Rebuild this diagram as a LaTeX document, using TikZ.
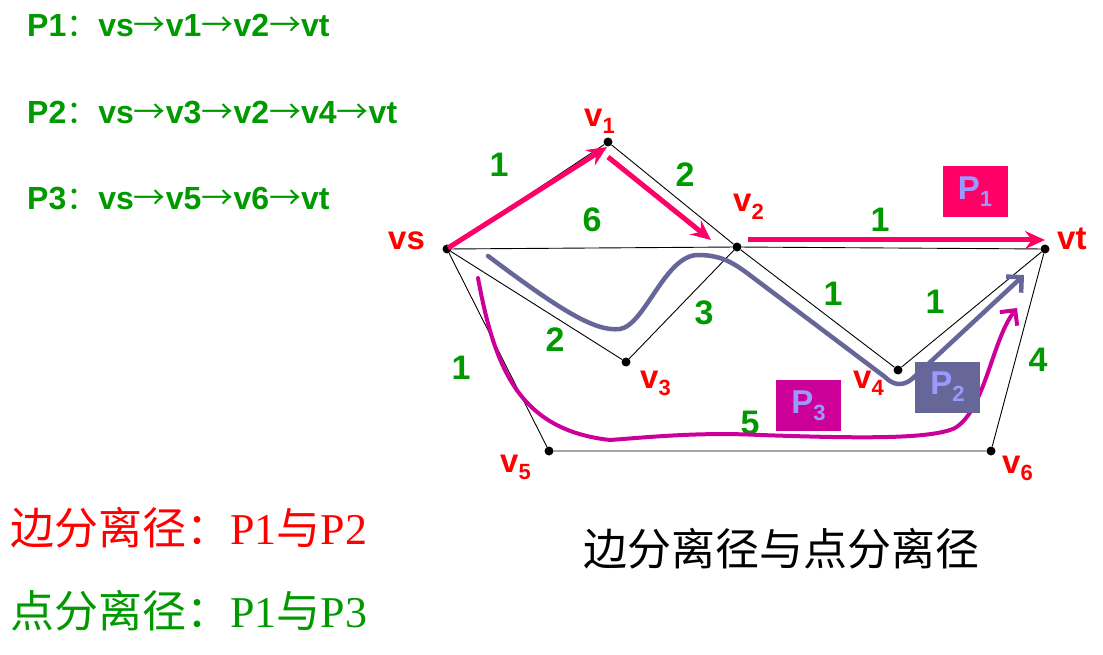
\documentclass[tikz,border=0pt]{standalone}
\usepackage{fontspec}
\setmainfont{Liberation Sans}
\newfontfamily\cjk{Noto Sans CJK SC}
\newfontfamily\lserif{Liberation Serif}
\usetikzlibrary{arrows.meta}
\definecolor{pgreen}{HTML}{009900}
\definecolor{pred}{HTML}{FF0000}
\definecolor{ppink}{HTML}{FF0066}
\definecolor{pslate}{HTML}{666699}
\definecolor{pmag}{HTML}{CC0099}
\definecolor{plilac}{HTML}{9999FF}
\newcommand\vsub[1]{v\raisebox{-7pt}{\fontsize{22}{22}\selectfont #1}}
\newcommand\psub[1]{P\raisebox{-7pt}{\fontsize{22}{22}\selectfont #1}}
\newcommand\pto{{\cjk\mdseries →}}
\newcommand\pcol{{\cjk\mdseries ：}}

\begin{document}
\begin{tikzpicture}[x=1pt,y=-1pt,
  vert/.style={circle,fill,inner sep=0pt,minimum size=9pt},
  edge/.style={line width=0.9pt},
  vlab/.style={text=pred,font=\fontsize{33}{33}\selectfont\bfseries,inner sep=0pt,anchor=base west},
  wlab/.style={text=pgreen,font=\fontsize{34}{34}\selectfont\bfseries,inner sep=0pt},
  ptext/.style={text=pgreen,font=\fontsize{32}{38}\selectfont\bfseries,inner sep=0pt,anchor=base west},
  ctext/.style={font=\fontsize{44}{48}\selectfont,inner sep=0pt},
  pbox/.style={minimum width=65pt,minimum height=51pt,inner sep=0pt,text=plilac,font=\fontsize{33}{33}\selectfont\bfseries},
  pinkarrow/.style={ppink,line width=5pt,-{Stealth[length=20pt,width=18pt,inset=7pt]}},
  curvearrow/.style={line width=4.5pt,line cap=round,-{Straight Barb[length=11pt,width=22pt]}}]
\useasboundingbox (0,0) rectangle (1103,655);
% the three paths
\node[ptext] (path1) at (27,37) {P1\pcol vs\pto v1\pto v2\pto vt};
\node[ptext] (path2) at (27,124) {P2\pcol vs\pto v3\pto v2\pto v4\pto vt};
\node[ptext] (path3) at (27,210) {P3\pcol vs\pto v5\pto v6\pto vt};
% vertices
\node[vert] (vs) at (447,249) {};
\node[vert] (v1) at (608,142) {};
\node[vert] (v2) at (737,247) {};
\node[vert] (vt) at (1045,249) {};
\node[vert] (v3) at (626,362) {};
\node[vert] (v4) at (898,370) {};
\node[vert] (v5) at (549,451) {};
\node[vert] (v6) at (991,451) {};
% edges
\draw[edge] (vs) -- (v1) -- (v2) -- (vt);
\draw[edge] (vs) -- (v2);
\draw[edge] (vs) -- (v3) -- (v2) -- (v4) -- (vt);
\draw[edge] (vs) -- (v5) -- (v6) -- (vt);
% vertex labels
\node[vlab] (lvs) at (388,250) {vs};
\node[vlab] (lv1) at (584,127) {\vsub{1}};
\node[vlab] (lv2) at (733,212) {\vsub{2}};
\node[vlab] (lvt) at (1057,250) {vt};
\node[vlab] (lv3) at (640,388) {\vsub{3}};
\node[vlab] (lv4) at (853,388) {\vsub{4}};
\node[vlab] (lv5) at (500,472) {\vsub{5}};
\node[vlab] (lv6) at (1002,473) {\vsub{6}};
% weights
\node[wlab] (ws1) at (499,165) {1};
\node[wlab] (w12) at (685,175) {2};
\node[wlab] (ws2) at (592,220) {6};
\node[wlab] (w2t) at (880,220) {1};
\node[wlab] (w24) at (833,294) {1};
\node[wlab] (w4t) at (935,302) {1};
\node[wlab] (w32) at (704,313) {3};
\node[wlab] (ws3) at (555,340) {2};
\node[wlab] (ws5) at (461,368) {1};
\node[wlab] (w6t) at (1038,360) {4};
\node[wlab] (w56) at (750,423) {5};
% P1
\coordinate (a1) at (448,248);
\coordinate (b1) at (607,147);
\coordinate (a2) at (608,157);
\coordinate (b2) at (711,240);
\coordinate (a3) at (748,240);
\coordinate (b3) at (1045,240);
\draw[pinkarrow] (a1) -- (b1);
\draw[pinkarrow] (a2) -- (b2);
\draw[pinkarrow] (a3) -- (b3);
% P2
\coordinate (c1) at (488,256);
\coordinate (c2) at (1024,275);
\draw[curvearrow,pslate] (c1) .. controls (560,310) and (595,332) .. (620,329)
  .. controls (645,325) and (665,255) .. (698,255)
  .. controls (720,255) and (732,262) .. (747,273) -- (885,377)
  .. controls (893,385) and (902,387) .. (912,379) -- (c2);
% P3
\coordinate (d1) at (478,278);
\coordinate (d2) at (1017,308);
\draw[curvearrow,pmag,line width=4pt] (d1) .. controls (495,370) and (520,430) .. (610,440)
  .. controls (650,437) and (700,432) .. (760,435)
  .. controls (850,438) and (930,440) .. (955,428)
  .. controls (985,410) and (992,340) .. (d2);
% labels of the paths
\node[pbox,fill=ppink] (box1) at (975,191.5) {\psub{1}};
\node[pbox,fill=pslate] (box2) at (947.5,387) {\psub{2}};
\node[pbox,fill=pmag] (box3) at (808.5,405.5) {\psub{3}};
% texts below
\node[ctext,text=pred,anchor=west] (edisj) at (10,528) {{\cjk 边分离径：}{\lserif P1}{\cjk 与}{\lserif P2}};
\node[ctext,text=pgreen,anchor=west] (vdisj) at (10,611) {{\cjk 点分离径：}{\lserif P1}{\cjk 与}{\lserif P3}};
\node[ctext] (title) at (781,549) {\cjk 边分离径与点分离径};
\end{tikzpicture}
\end{document}
